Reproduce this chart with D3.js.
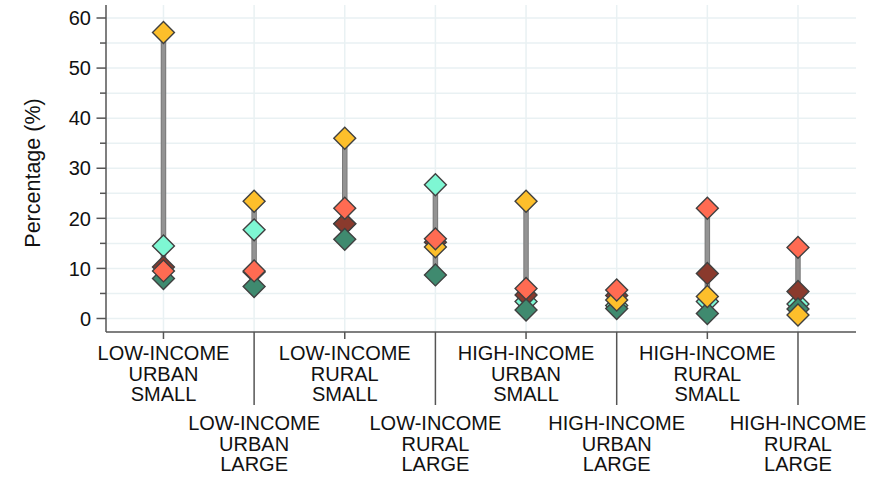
<!DOCTYPE html>
<html>
<head>
<meta charset="utf-8">
<script src="https://cdn.jsdelivr.net/npm/d3@7"></script>
<style>
  html, body { margin: 0; padding: 0; background: #fff; }
  svg { display: block; font-family: "Liberation Sans", Arial, Helvetica, sans-serif; }
</style>
</head>
<body>
<svg id="chart" width="894" height="477"></svg>
<script>
// Category labels (three lines each)
const categories = [
  ["LOW-INCOME", "URBAN", "SMALL"],
  ["LOW-INCOME", "URBAN", "LARGE"],
  ["LOW-INCOME", "RURAL", "SMALL"],
  ["LOW-INCOME", "RURAL", "LARGE"],
  ["HIGH-INCOME", "URBAN", "SMALL"],
  ["HIGH-INCOME", "URBAN", "LARGE"],
  ["HIGH-INCOME", "RURAL", "SMALL"],
  ["HIGH-INCOME", "RURAL", "LARGE"]
];

// Series values (%), one per category; listed in drawing order (bottom to top)
const aquaValues   = [14.5, 17.7, 18.9, 26.7, 3.4, 2.6, 3.4, 2.9];
const brownValues  = [10.3, 9.3, 18.9, 15.2, 4.7, 4.6, 9.0, 5.4];
const greenValues  = [8.0, 6.4, 15.8, 8.7, 1.7, 2.0, 1.0, 1.9];
const yellowValues = [57.1, 23.4, 36.0, 14.3, 23.4, 3.7, 4.4, 0.7];
const tomatoValues = [9.5, 9.5, 22.0, 15.9, 6.0, 5.7, 22.0, 14.2];

const yTicks = [0, 10, 20, 30, 40, 50, 60];
const yMinorTicks = [5, 15, 25, 35, 45, 55];
const yTitle = "Percentage (%)";

const series = [
  { values: aquaValues,   color: "#7ef7d3" },
  { values: brownValues,  color: "#8a3a2d" },
  { values: greenValues,  color: "#3f8a6f" },
  { values: yellowValues, color: "#fdbf2b" },
  { values: tomatoValues, color: "#ff6b52" }
];

const svg = d3.select("#chart");
const plotLeft = 106, plotRight = 856, plotTop = 5, plotBottom = 332;

const x = d3.scaleLinear().domain([0.366, 8.64]).range([plotLeft, plotRight]);
const y = d3.scaleLinear().domain([0, 60]).range([318.5, 18]);

const gridColor = "#e9f1f3";
const axisColor = "#555";

// Horizontal gridlines every 5 units
const grid = svg.append("g");
grid.selectAll("line.hgrid")
  .data(yTicks.concat(yMinorTicks))
  .join("line")
  .attr("class", "hgrid")
  .attr("x1", plotLeft).attr("x2", plotRight)
  .attr("y1", d => y(d)).attr("y2", d => y(d))
  .attr("stroke", gridColor).attr("stroke-width", 1.5);

// Vertical gridlines at each category
grid.selectAll("line.vgrid")
  .data(categories.map((c, i) => i + 1))
  .join("line")
  .attr("class", "vgrid")
  .attr("x1", d => x(d)).attr("x2", d => x(d))
  .attr("y1", plotTop).attr("y2", plotBottom)
  .attr("stroke", gridColor).attr("stroke-width", 1.5);

// Range bars connecting min and max of each category
const ranges = categories.map((c, i) => {
  const vals = series.map(s => s.values[i]);
  return { i: i + 1, min: d3.min(vals), max: d3.max(vals) };
});
const rangeG = svg.append("g");
rangeG.selectAll("line.edge")
  .data(ranges)
  .join("line")
  .attr("class", "edge")
  .attr("x1", d => x(d.i)).attr("x2", d => x(d.i))
  .attr("y1", d => y(d.min)).attr("y2", d => y(d.max))
  .attr("stroke", "#7a7a7a").attr("stroke-width", 5.5);
rangeG.selectAll("line.core")
  .data(ranges)
  .join("line")
  .attr("class", "core")
  .attr("x1", d => x(d.i)).attr("x2", d => x(d.i))
  .attr("y1", d => y(d.min)).attr("y2", d => y(d.max))
  .attr("stroke", "#939393").attr("stroke-width", 3.5);

// Diamond markers
const diamond = d3.symbol().type(d3.symbolSquare).size(240);
series.forEach(s => {
  svg.append("g").selectAll("path")
    .data(s.values.map((v, i) => ({ i: i + 1, v })))
    .join("path")
    .attr("d", diamond)
    .attr("transform", d => `translate(${x(d.i)},${y(d.v)}) rotate(45)`)
    .attr("fill", s.color)
    .attr("stroke", "#404040")
    .attr("stroke-width", 1.4);
});

// Axes
const axes = svg.append("g").attr("stroke", axisColor).attr("stroke-width", 1.5);
axes.append("line").attr("x1", plotLeft).attr("x2", plotLeft).attr("y1", plotTop).attr("y2", plotBottom);
axes.append("line").attr("x1", plotLeft).attr("x2", plotRight).attr("y1", plotBottom).attr("y2", plotBottom);

// Y ticks
axes.selectAll("line.major").data(yTicks).join("line")
  .attr("class", "major")
  .attr("x1", 96.5).attr("x2", plotLeft).attr("y1", d => y(d)).attr("y2", d => y(d));
axes.selectAll("line.minor").data(yMinorTicks).join("line")
  .attr("class", "minor")
  .attr("x1", 100).attr("x2", plotLeft).attr("y1", d => y(d)).attr("y2", d => y(d));

svg.append("g").selectAll("text").data(yTicks).join("text")
  .attr("x", 91).attr("y", d => y(d)).attr("dy", "0.36em")
  .attr("text-anchor", "end").attr("font-size", 20).attr("fill", "#111")
  .text(d => d);

svg.append("text")
  .attr("transform", "translate(40,173) rotate(-90)")
  .attr("text-anchor", "middle").attr("font-size", 21.5).attr("fill", "#111")
  .text(yTitle);

// X ticks: alternating short/long so labels stagger
axes.selectAll("line.xtick").data(categories.map((c, i) => i + 1)).join("line")
  .attr("class", "xtick")
  .attr("x1", d => x(d)).attr("x2", d => x(d))
  .attr("y1", plotBottom).attr("y2", d => d % 2 === 1 ? 339 : 405);

const labels = svg.append("g").attr("font-size", 20).attr("fill", "#111").attr("text-anchor", "middle");
categories.forEach((lines, i) => {
  const baseY = i % 2 === 0 ? 353 : 423;
  const t = labels.append("text").attr("x", x(i + 1));
  lines.forEach((ln, k) => {
    t.append("tspan").attr("x", x(i + 1)).attr("y", baseY + k * 20.5).attr("dy", "0.36em").text(ln);
  });
});
</script>
</body>
</html>
